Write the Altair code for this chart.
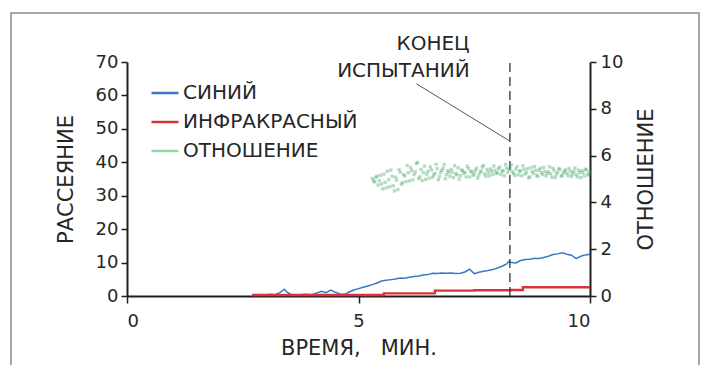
import altair as alt
import pandas as pd

# ---------------- data ----------------
series_names = ["СИНИЙ", "ИНФРАКРАСНЫЙ", "ОТНОШЕНИЕ"]
series_colors = ["#3a78c4", "#d9343c", "#93d6aa"]

blue_t = [2.70, 2.85, 3.00, 3.10, 3.20, 3.30, 3.40, 3.45, 3.55, 3.70, 3.85, 4.00,
          4.10, 4.20, 4.30, 4.40, 4.50, 4.60, 4.70, 4.80, 4.90, 5.00, 5.10, 5.20,
          5.30, 5.40, 5.50, 5.60, 5.70, 5.80, 5.90, 6.00, 6.10, 6.20, 6.30, 6.40,
          6.50, 6.60, 6.70, 6.80, 6.90, 7.00, 7.10, 7.20, 7.30, 7.40, 7.50, 7.60,
          7.70, 7.80, 7.90, 8.00, 8.10, 8.20, 8.25, 8.30, 8.40, 8.50, 8.60, 8.70,
          8.80, 8.90, 9.00, 9.10, 9.20, 9.30, 9.40, 9.50, 9.60, 9.70, 9.80, 9.90, 10.00]
blue_v = [0.3, 0.4, 0.3, 0.5, 0.4, 1.0, 2.0, 1.2, 0.4, 0.3, 0.5, 0.4,
          0.9, 1.4, 1.0, 1.8, 1.1, 0.6, 0.5, 1.2, 1.8, 2.2, 2.6, 3.0,
          3.4, 3.9, 4.5, 4.7, 4.9, 5.1, 5.4, 5.3, 5.6, 5.8, 6.0, 6.3,
          6.4, 6.8, 6.7, 6.9, 6.8, 6.9, 6.7, 6.8, 7.2, 8.0, 6.7, 7.1,
          7.4, 7.6, 7.9, 8.4, 8.9, 9.6, 10.4, 10.0, 9.9, 10.6, 10.9, 11.0,
          11.3, 11.2, 11.5, 11.9, 12.4, 12.6, 12.9, 12.5, 12.2, 11.2, 11.9, 12.3, 12.5]

red_t = [2.70, 4.00, 5.50, 5.55, 6.60, 6.65, 7.50, 8.30, 8.45, 8.55, 9.20, 10.00]
red_v = [0.3, 0.3, 0.3, 0.8, 0.8, 1.6, 1.7, 1.8, 1.8, 2.6, 2.6, 2.6]

ratio_t_a = [5.30, 5.35, 5.40, 5.45, 5.50, 5.55, 5.60, 5.65, 5.70, 5.75, 5.80, 5.85,
             5.90, 5.95, 6.00, 6.05, 6.10, 6.15, 6.20, 6.25, 6.30, 6.35, 6.40, 6.45,
             6.50, 6.55, 6.60, 6.65, 6.70, 6.75, 6.80, 6.85, 6.90, 6.95, 7.00, 7.05,
             7.10, 7.15, 7.20, 7.25, 7.30, 7.35, 7.40, 7.45, 7.50, 7.55, 7.60, 7.65,
             7.70, 7.75, 7.80, 7.85, 7.90, 7.95, 8.00, 8.05, 8.10, 8.15, 8.20, 8.25,
             8.30, 8.35, 8.40, 8.45, 8.50, 8.55, 8.60, 8.65, 8.70, 8.75, 8.80, 8.85,
             8.90, 8.95, 9.00, 9.05, 9.10, 9.15, 9.20, 9.25, 9.30, 9.35, 9.40, 9.45,
             9.50, 9.55, 9.60, 9.65, 9.70, 9.75, 9.80, 9.85, 9.90, 9.95, 10.00]
ratio_a = [5.02, 4.88, 5.12, 4.93, 4.79,
           5.21, 4.62, 4.97, 5.38, 4.71, 5.08, 4.55, 5.29, 4.84,
           5.13, 5.58, 4.92, 5.36, 5.19, 5.66, 5.02, 5.41, 5.27, 4.98,
           5.33, 5.52, 5.08, 5.24, 5.44, 5.11, 5.37, 5.62, 5.18, 5.29,
           5.41, 5.06, 5.23, 5.48, 5.14, 5.36, 5.27, 5.55, 5.09, 5.31,
           5.22, 5.46, 5.17, 5.34, 5.58, 5.12, 5.28, 5.43, 5.19, 5.37,
           5.26, 5.51, 5.33, 5.14, 5.47, 5.39, 5.61, 5.24, 5.42, 5.18,
           5.35, 5.57, 5.21, 5.44, 5.09, 5.32, 5.53, 5.16, 5.38, 5.27,
           5.49, 5.13, 5.31, 5.22, 5.46, 5.07, 5.29, 5.41, 5.15, 5.34,
           5.24, 5.45, 5.11, 5.33, 5.19, 5.38, 5.06, 5.28, 5.42, 5.17, 5.31]

ratio_t_b = [5.325, 5.375, 5.425, 5.475, 5.525, 5.575, 5.625, 5.675, 5.725, 5.775,
             5.825, 5.875, 5.925, 5.975, 6.025, 6.075, 6.125, 6.175, 6.225, 6.275,
             6.325, 6.375, 6.425, 6.475, 6.525, 6.575, 6.625, 6.675, 6.725, 6.775,
             6.825, 6.875, 6.925, 6.975, 7.025, 7.075, 7.125, 7.175, 7.225, 7.275,
             7.325, 7.375, 7.425, 7.475, 7.525, 7.575, 7.625, 7.675, 7.725, 7.775,
             7.825, 7.875, 7.925, 7.975, 8.025, 8.075, 8.125, 8.175, 8.225, 8.275,
             8.325, 8.375, 8.425, 8.475, 8.525, 8.575, 8.625, 8.675, 8.725, 8.775,
             8.825, 8.875, 8.925, 8.975, 9.025, 9.075, 9.125, 9.175, 9.225, 9.275,
             9.325, 9.375, 9.425, 9.475, 9.525, 9.575, 9.625, 9.675, 9.725, 9.775,
             9.825, 9.875, 9.925, 9.975]
ratio_b = [4.91, 5.07, 4.74, 5.16,
           4.58, 4.86, 5.33, 4.67, 5.12, 4.49, 4.95, 5.41, 4.78, 5.18,
           4.89, 5.27, 5.49, 4.96, 5.31, 5.71, 5.09, 4.93, 5.55, 5.21,
           5.04, 5.39, 5.17, 5.63, 4.97, 5.28, 5.46, 5.01, 5.35, 5.12,
           5.29, 5.57, 5.18, 4.99, 5.38, 5.25, 5.09, 5.44, 5.32, 5.16,
           5.37, 5.04, 5.29, 5.51, 5.22, 5.41, 5.13, 5.33, 5.56, 5.24,
           5.44, 5.19, 5.36, 5.62, 5.28, 5.47, 5.31, 5.15, 5.53, 5.34,
           5.14, 5.42, 5.28, 5.05, 5.49, 5.23, 5.37, 5.11, 5.46, 5.19,
           5.33, 5.24, 5.52, 5.08, 5.36, 5.21, 5.45, 5.12, 5.27, 5.39,
           5.14, 5.32, 5.23, 5.47, 5.09, 5.26, 5.36, 5.13, 5.39, 5.22]

end_time = [8.27]
note_lines = ["КОНЕЦ", "ИСПЫТАНИЙ"]
note_t = [7.40, 7.40]
note_v = [75.5, 67.3]
leader_t = [6.25]
leader_v = [63.5]
leader_t2 = [8.25]
leader_v2 = [46.5]

x_ticks = [0, 5, 10]
left_ticks = [0, 10, 20, 30, 40, 50, 60, 70]
right_ticks = [0, 2, 4, 6, 8, 10]

# ---------------- tables ----------------
blue_df = pd.DataFrame({"t": blue_t, "v": blue_v, "series": series_names[0]})
red_df = pd.DataFrame({"t": red_t, "v": red_v, "series": series_names[1]})
ratio_df = pd.DataFrame({"t": ratio_t_a + ratio_t_b, "r": ratio_a + ratio_b})
end_df = pd.DataFrame({"t": end_time, "v": [0.0], "v2": [70.0]})
note_df = pd.DataFrame({"t": note_t, "v": note_v, "txt": note_lines})
leader_df = pd.DataFrame({"t": leader_t, "v": leader_v, "t2": leader_t2, "v2": leader_v2})
frame_df = pd.DataFrame({"a": [0]})

FONT = "DejaVu Sans"
INK = "#1e1e1e"
TXT = "#262626"

X = alt.X("t:Q", scale=alt.Scale(domain=[0, 10], nice=False),
          axis=alt.Axis(values=x_ticks, title="ВРЕМЯ,\u00a0\u00a0 МИН.", tickSize=7,
                        labelPadding=9, titlePadding=7, format="d"))
Y = alt.Y("v:Q", scale=alt.Scale(domain=[0, 70], nice=False),
          axis=alt.Axis(values=left_ticks, title="РАССЕЯНИЕ", tickSize=6,
                        labelPadding=3, titlePadding=19, format="d"))
COLOR = alt.Color("series:N", scale=alt.Scale(domain=series_names, range=series_colors),
                  title=None)

frame = alt.Chart(frame_df).mark_rect(fillOpacity=0, stroke="#8a8a8a", strokeWidth=1.5,
                                      clip=False).encode(
    x=alt.value(-116), x2=alt.value(572), y=alt.value(-49), y2=alt.value(330))

blue = alt.Chart(blue_df).mark_line(strokeWidth=1.5).encode(x=X, y=Y, color=COLOR)
red = alt.Chart(red_df).mark_line(strokeWidth=2.4, interpolate="step-after").encode(
    x=X, y=Y, color=COLOR)

end_rule = alt.Chart(end_df).mark_rule(color="#333333", strokeWidth=1.3,
                                       strokeDash=[9, 5]).encode(x=X, y=Y, y2="v2:Q")
leader = alt.Chart(leader_df).mark_rule(color="#555555", strokeWidth=1).encode(
    x=X, y=Y, x2="t2:Q", y2="v2:Q")
note = alt.Chart(note_df).mark_text(align="right", baseline="middle", font=FONT,
                                    fontSize=20, color=TXT, clip=False).encode(
    x=X, y=Y, text="txt:N")

left = alt.layer(frame, blue, red, end_rule, leader, note)

right = alt.Chart(ratio_df).mark_square(size=11, color="#45a866", opacity=0.4).encode(
    x=X,
    y=alt.Y("r:Q", scale=alt.Scale(domain=[0, 10], nice=False),
            axis=alt.Axis(values=right_ticks, orient="right", title="ОТНОШЕНИЕ",
                          tickSize=6, labelPadding=4, titlePadding=34,
                          titleAngle=270, format="d")))

chart = alt.layer(left, right).resolve_scale(y="independent").properties(
    width=463, height=234,
    padding={"left": 127, "top": 62, "right": 113, "bottom": 69},
    autosize=alt.AutoSizeParams(type="none"),
    background="white",
).configure_view(stroke=None).configure_axis(
    grid=False, domainColor=INK, domainWidth=2, tickColor=INK, tickWidth=1.5,
    labelFont=FONT, labelFontSize=18, labelColor=TXT,
    titleFont=FONT, titleFontSize=21, titleFontWeight="normal", titleColor=TXT,
).configure_legend(
    orient="none", legendX=23, legendY=16, symbolType="stroke", symbolSize=729,
    symbolStrokeWidth=2.5, labelFont=FONT, labelFontSize=20, labelColor=TXT,
    labelOffset=3, rowPadding=4, labelLimit=0,
)

chart.save("out.html", embed_options={"renderer": "svg", "actions": False})
